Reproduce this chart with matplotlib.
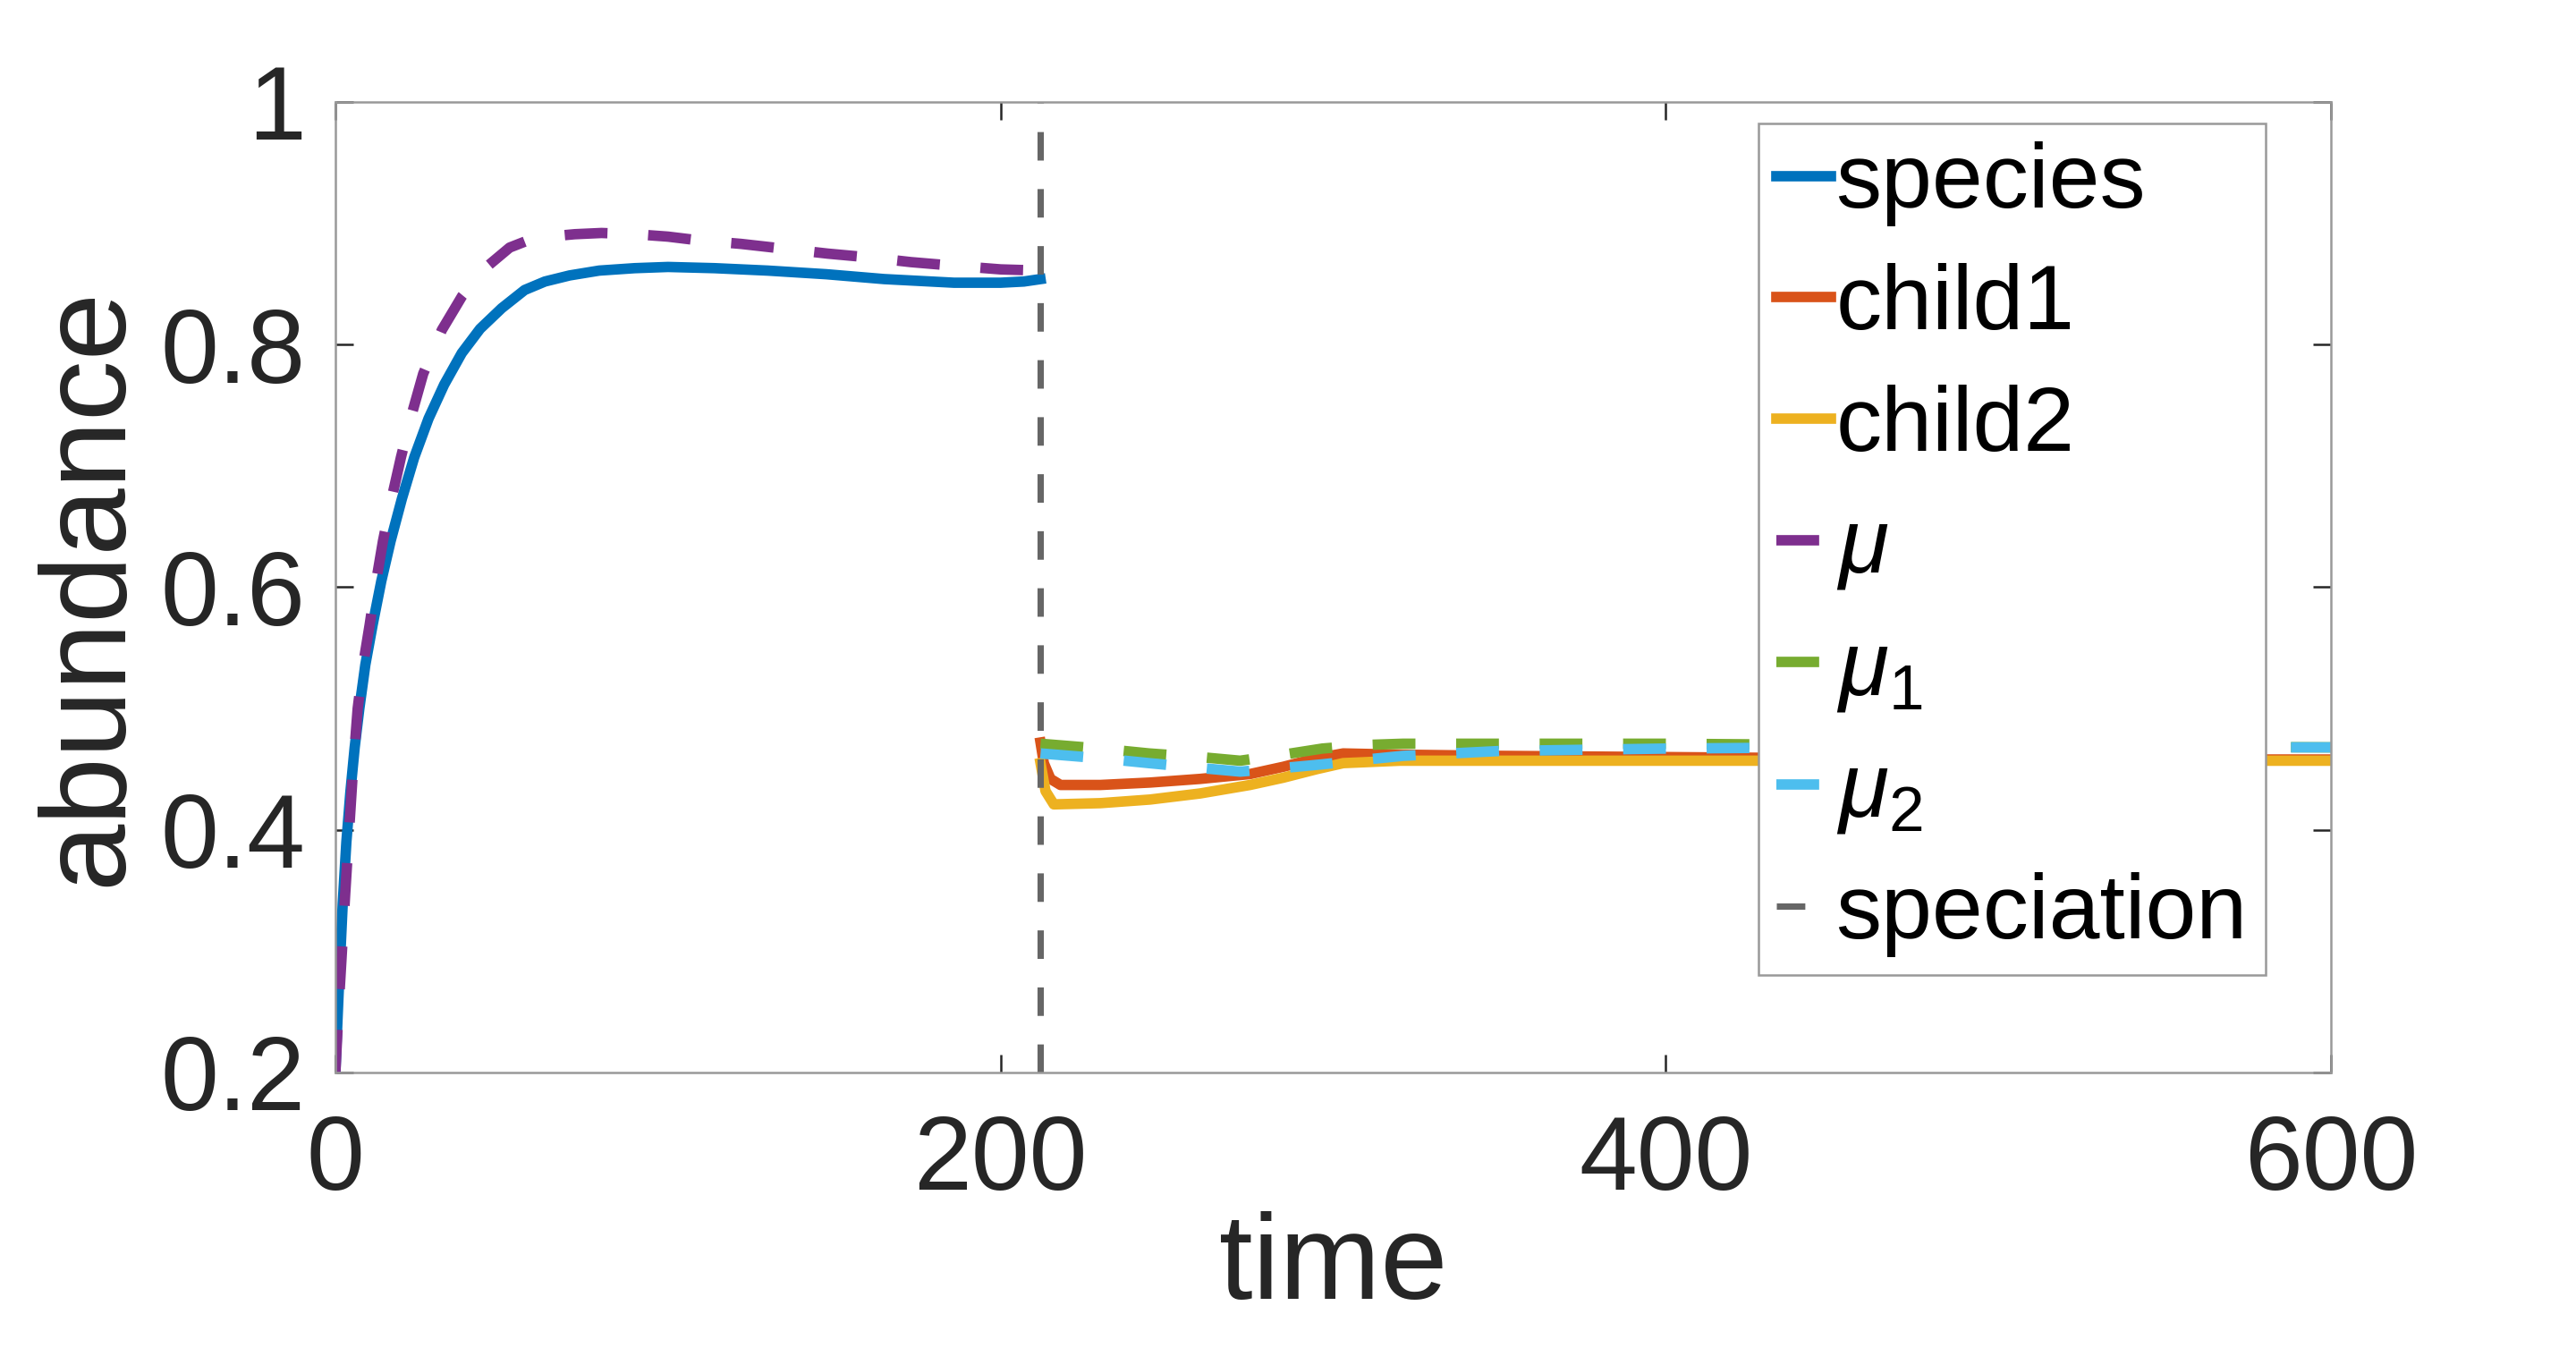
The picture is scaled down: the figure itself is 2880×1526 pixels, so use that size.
import numpy as np
import matplotlib
matplotlib.use("Agg")
import matplotlib.pyplot as plt

plt.rcParams['font.family'] = ['Liberation Sans', 'DejaVu Sans']
plt.rcParams['mathtext.fontset'] = 'custom'
plt.rcParams['mathtext.it'] = 'Liberation Sans:italic'
plt.rcParams['mathtext.rm'] = 'Liberation Sans'

# 分化前 (species, mu)
t_species = [0, 0.45, 1.2, 2.2, 3.3, 4.5, 5.8, 7.2, 9.0, 11.2, 13.8, 16.6, 20, 23.7, 28,
             32.7, 38, 43.5, 50, 56.9, 63, 70.4, 79.3, 90, 100, 114, 130, 147.6, 165,
             186, 200, 207, 212]
species = [0.20, 0.232, 0.280, 0.339, 0.390, 0.431, 0.468, 0.500, 0.536, 0.569, 0.605,
           0.638, 0.673, 0.707, 0.739, 0.767, 0.793, 0.813, 0.830, 0.845, 0.852, 0.857,
           0.861, 0.863, 0.864, 0.863, 0.861, 0.858, 0.854, 0.851, 0.851, 0.852, 0.854]

t_mu = [0, 0.9, 1.8, 2.9, 4.0, 5.3, 6.7, 8.4, 10.3, 12.2, 14.3, 16.9, 19.7, 22.9, 26.4,
        32, 38.1, 45, 52.4, 58, 64, 72, 80, 90, 100, 109, 122, 135, 148, 160, 173, 186,
        200, 212]
mu = [0.20, 0.250, 0.292, 0.345, 0.394, 0.450, 0.500, 0.537, 0.569, 0.604, 0.638, 0.673,
      0.707, 0.742, 0.776, 0.812, 0.840, 0.863, 0.880, 0.886, 0.889, 0.891, 0.892, 0.891,
      0.889, 0.886, 0.883, 0.879, 0.875, 0.872, 0.868, 0.865, 0.862, 0.861]

# 分化後 (child1, child2, mu1, mu2)
t_child1 = [212, 213, 215, 218, 230, 245, 260, 275, 285, 295, 303, 320, 350, 400, 450,
            500, 600]
child1 = [0.472, 0.455, 0.442, 0.437, 0.437, 0.439, 0.442, 0.446, 0.452, 0.459, 0.463,
          0.462, 0.461, 0.460, 0.459, 0.458, 0.458]
t_child2 = [212, 213.5, 216, 230, 245, 260, 275, 285, 295, 303, 320, 350, 400, 450, 500,
            600]
child2 = [0.455, 0.432, 0.421, 0.422, 0.425, 0.430, 0.437, 0.443, 0.450, 0.455, 0.457,
          0.457, 0.457, 0.457, 0.457, 0.457]

t_mu12 = [212, 230, 244.6, 260, 272, 285, 296.7, 310, 321, 350, 400, 450, 500, 600]
mu1 = [0.471, 0.467, 0.463, 0.460, 0.457, 0.462, 0.467, 0.470, 0.471, 0.471, 0.471,
       0.470, 0.469, 0.468]
mu2 = [0.463, 0.459, 0.455, 0.451, 0.448, 0.451, 0.454, 0.458, 0.461, 0.465, 0.467,
       0.468, 0.468, 0.468]

t_speciation = 212

xticks = [0, 200, 400, 600]
yticks = [0.2, 0.4, 0.6, 0.8, 1.0]
yticklabels = ['0.2', '0.4', '0.6', '0.8', '1']

fig = plt.figure(figsize=(9.6, 1526 / 300), dpi=300)
ax = fig.add_axes([0.1302, 0.2143, 0.7747, 0.7110])

lw = 2.8
dash = (0, (4.1, 3.9))
ax.plot(t_species, species, color='#0072BD', lw=lw, label='species')
ax.plot(t_child1, child1, color='#D95319', lw=lw, label='child1')
ax.plot(t_child2, child2, color='#EDB120', lw=lw, label='child2')
ax.plot(t_mu, mu, color='#7E2F8E', lw=lw, ls=dash, label=r'$\mu$')
ax.plot(t_mu12, mu1, color='#77AC30', lw=lw, ls=dash, label=r'$\mu_1$')
ax.plot(t_mu12, mu2, color='#4DBEEE', lw=lw, ls=dash, label=r'$\mu_2$')
ax.axvline(t_speciation, color='#666666', lw=1.7, ls=(0, (4.5, 4.5)), label='speciation')

ax.set_xlim(0, 600)
ax.set_ylim(0.2, 1.0)
ax.set_xticks(xticks)
ax.set_yticks(yticks)
ax.set_yticklabels(yticklabels)

for s in ax.spines.values():
    s.set_color('#999999')
    s.set_linewidth(0.6)
ax.tick_params(direction='in', length=4.8, width=0.6, color='#262626',
               top=True, right=True, labelsize=28, labelcolor='#262626')
ax.tick_params(axis='x', pad=11)
ax.tick_params(axis='y', pad=8)

ax.set_xlabel('time', fontsize=32.5, color='#262626', labelpad=0)
ax.set_ylabel('abundance', fontsize=32.5, color='#262626', labelpad=4)

leg = ax.legend(loc='upper left', bbox_to_anchor=(0.713, 0.978), borderaxespad=0,
                fontsize=24.5, handlelength=0.6, handletextpad=0.05, labelspacing=0.4,
                borderpad=0.2, fancybox=False, framealpha=1)
leg.get_frame().set_edgecolor('#999999')
leg.get_frame().set_linewidth(0.6)

fig.savefig('out.png', dpi=300)
